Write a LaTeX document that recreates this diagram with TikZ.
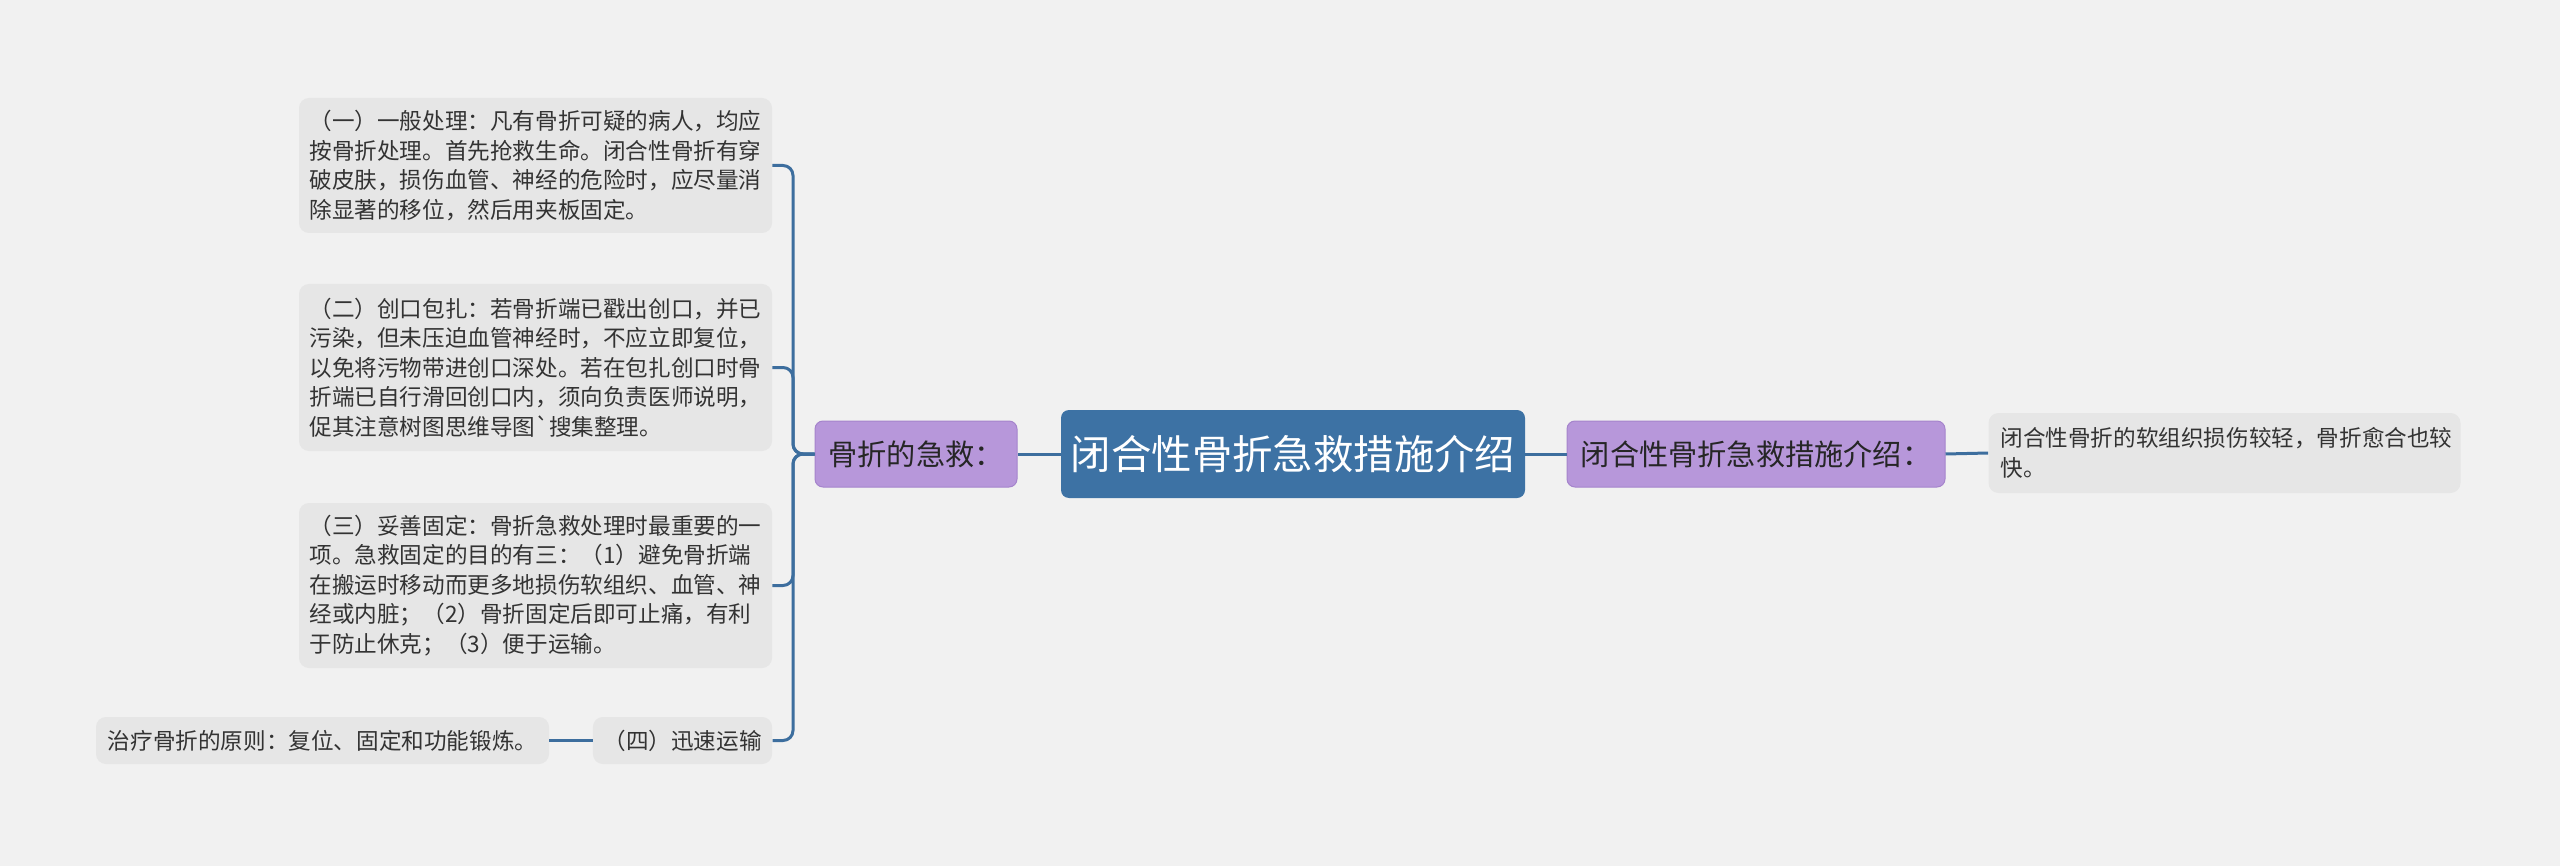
\documentclass[tikz,border=0pt]{standalone}
\usepackage{fontspec}
\newfontfamily\cjk{Noto Sans CJK SC}
\definecolor{bg}{HTML}{F1F1F1}
\definecolor{cblue}{HTML}{3D72A4}
\definecolor{cpurp}{HTML}{B797DA}
\definecolor{cpurpb}{HTML}{A584CC}
\definecolor{cleaf}{HTML}{E6E6E6}
\definecolor{cline}{HTML}{3D6E9E}
\definecolor{ctext}{HTML}{333333}
\begin{document}
\begin{tikzpicture}[x=0.5pt,y=-0.5pt,
  leaf/.style={fill=cleaf, rounded corners=5pt, text=ctext, inner xsep=5.25pt, inner ysep=0pt,
     font=\cjk\fontsize{11.3pt}{14.8pt}\selectfont},
  multi/.style={leaf, text width=226pt, align=left},
  purp/.style={fill=cpurp, draw=cpurpb, line width=0.5pt, rounded corners=4pt, text=black!85,
     inner sep=0pt, font=\cjk\fontsize{14.6pt}{18pt}\selectfont},
  root/.style={fill=cblue, rounded corners=4pt, text=white, inner sep=0pt,
     font=\cjk\fontsize{20.2pt}{26pt}\selectfont},
  conn/.style={draw=cline, line width=1.5pt},
]
\fill[bg] (0,0) rectangle (2560,866);
\useasboundingbox (0,0) rectangle (2560,866);

\node[root, minimum width=232pt, minimum height=44pt] (c) at (1293,454) {闭合性骨折急救措施介绍};
\node[purp, minimum width=101pt, minimum height=33pt] (lp) at (916,454) {骨折的急救：};
\node[purp, minimum width=189pt, minimum height=33pt] (rp) at (1756,454) {闭合性骨折急救措施介绍：};
\node[leaf, text width=224pt, align=left, inner xsep=6pt, minimum height=40pt] (rl) at (2224.5,453)
  {闭合性骨折的软组织损伤较轻，骨折愈合也较\\快。};

\node[multi, minimum height=67.5pt] (l1) at (535.5,165.5)
  {（一）一般处理：凡有骨折可疑的病人，均应\\按骨折处理。首先抢救生命。闭合性骨折有穿\\破皮肤，损伤血管、神经的危险时，应尽量消\\除显著的移位，然后用夹板固定。};
\node[multi, minimum height=83.5pt] (l2) at (535.5,367.5)
  {（二）创口包扎：若骨折端已戳出创口，并已\\污染，但未压迫血管神经时，不应立即复位，\\以免将污物带进创口深处。若在包扎创口时骨\\折端已自行滑回创口内，须向负责医师说明，\\促其注意树图思维导图`搜集整理。};
\node[multi, minimum height=82.5pt] (l3) at (535.5,585.5)
  {（三）妥善固定：骨折急救处理时最重要的一\\项。急救固定的目的有三：（1）避免骨折端\\在搬运时移动而更多地损伤软组织、血管、神\\经或内脏；（2）骨折固定后即可止痛，有利\\于防止休克；（3）便于运输。};
\node[leaf, minimum width=89.5pt, minimum height=23.5pt] (l4) at (682.5,740.5) {（四）迅速运输};
\node[leaf, minimum width=226.5pt, minimum height=23.5pt] (l5) at (322.5,740.5) {治疗骨折的原则：复位、固定和功能锻炼。};

\coordinate (bx) at (793,454);
\draw[conn] (c.west) -- (lp.east);
\draw[conn] (c.east) -- (rp.west);
\draw[conn] (rp.east) -- (rl.west);
\draw[conn] (l4.west) -- (l5.east);
\foreach \n in {l1,l2,l3,l4}{
  \draw[conn, rounded corners=5pt] (lp.west) -- (bx) |- (\n.east);
}
\end{tikzpicture}
\end{document}
